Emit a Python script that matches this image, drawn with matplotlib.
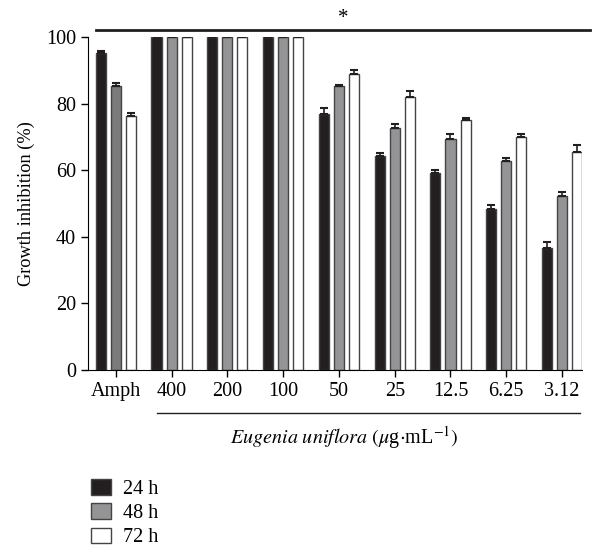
import numpy as np
import matplotlib.pyplot as plt
from matplotlib.patches import Patch

# dati
gruppi = ['Amph', '400', '200', '100', '50', '25', '12.5', '6.25', '3.12']
h24 = [95.2, 100, 100, 100, 76.8, 64.3, 59.0, 48.3, 36.5]
h48 = [85.3, 100, 100, 100, 85.2, 72.6, 69.5, 62.6, 52.3]
h72 = [76.4, 100, 100, 100, 89.0, 82.0, 75.2, 70.1, 65.6]
err24 = [0.7, 0, 0, 0, 1.8, 0.9, 1.1, 1.2, 1.9]
err48 = [0.9, 0, 0, 0, 0.4, 1.3, 1.5, 1.0, 1.0]
err72 = [0.7, 0, 0, 0, 1.0, 1.8, 0.6, 0.8, 1.9]
serie = ['24 h', '48 h', '72 h']

plt.rcParams['font.family'] = ['Liberation Serif', 'DejaVu Serif']
plt.rcParams['mathtext.fontset'] = 'stix'

fig = plt.figure(figsize=(6.02, 5.48), dpi=100)
ax = fig.add_axes([0.146, 0.325, 0.821, 0.6075])

x = np.arange(len(gruppi))
w = 0.18
off = 0.27
nero = '#231f20'
grigio = ['#7b7b7d'] + ['#949497'] * 8
ek = dict(ecolor=nero, capsize=3, elinewidth=1.2, capthick=1.5)

ax.bar(x - off, h24, w, color=nero, edgecolor='#444444', linewidth=1, yerr=[[0]*9, err24], error_kw=ek)
ax.bar(x, h48, w, color=grigio, edgecolor='#444444', linewidth=1, yerr=[[0]*9, err48], error_kw=ek)
ax.bar(x + off, h72, w, color='white', edgecolor='#444444', linewidth=1, yerr=[[0]*9, err72], error_kw=ek)

ax.set_xlim(-0.5, 8.36)
ax.set_ylim(0, 100)
ax.set_yticks([0, 20, 40, 60, 80, 100])
ax.set_xticks(x)
ax.set_xticklabels(gruppi)
ax.spines['top'].set_visible(False)
ax.spines['right'].set_visible(False)
ax.tick_params(direction='out', length=5, labelsize=14.5, width=1)
ax.set_ylabel('Growth inhibition (%)', fontsize=13.2, labelpad=8)

# linea di significativita' in alto con asterisco
ax.plot([-0.36, 8.5], [102, 102], color=nero, lw=2, clip_on=False)
ax.text(4.08, 102.6, '*', ha='center', va='bottom', fontsize=15)

# linea sotto le concentrazioni e titolo asse x
ax.plot([0.74, 8.33], [-12.9, -12.9], color=nero, lw=1, clip_on=False)
ax.text(4.1, -20.2, r'$Eugenia\ uniflora\ (\mu$g$\cdot$mL$^{-1})$', ha='center', va='center', fontsize=14.5)

maniglie = [Patch(facecolor=nero, edgecolor='#444444'),
            Patch(facecolor='#949497', edgecolor='#444444'),
            Patch(facecolor='white', edgecolor='#444444')]
fig.legend(maniglie, serie, loc='upper left', bbox_to_anchor=(0.138, 0.14), frameon=False,
           fontsize=14.5, handlelength=1.0, handleheight=0.8, labelspacing=0.22, handletextpad=0.6,
           borderaxespad=0)

plt.savefig('out.png', dpi=100)
